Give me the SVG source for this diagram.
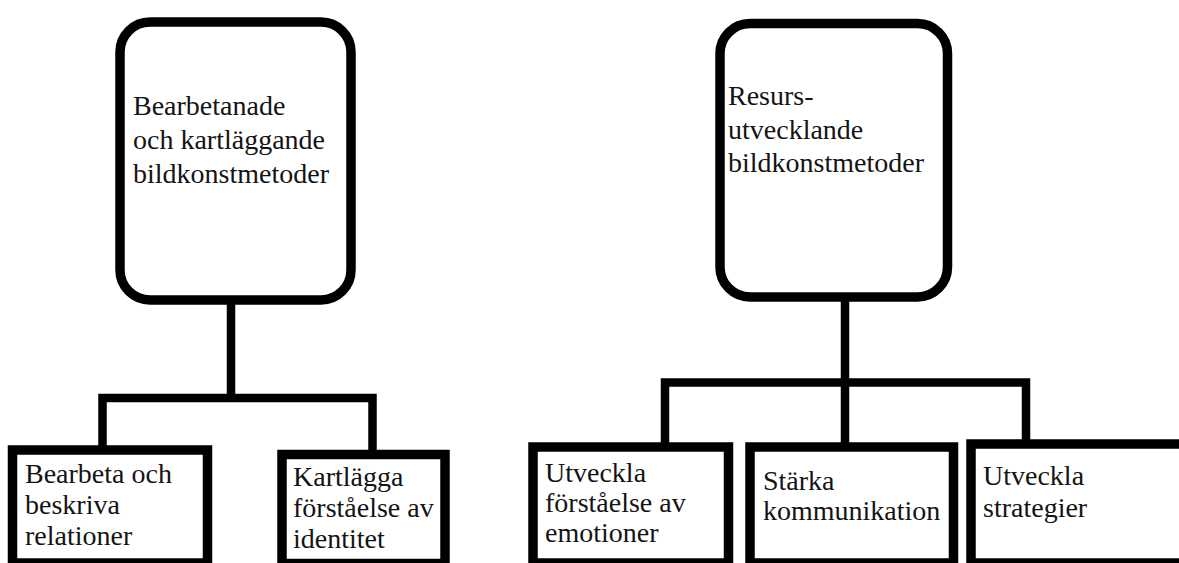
<svg xmlns="http://www.w3.org/2000/svg" width="1179" height="563" viewBox="0 0 1179 563">
  <style>
    .box { fill: #ffffff; stroke: #000000; stroke-width: 9.5; }
    .leaf { fill: #ffffff; stroke: #000000; stroke-width: 9.5; }
    .conn { fill: none; stroke: #000000; stroke-width: 8.5; stroke-linejoin: miter; stroke-linecap: butt; }
    .t { font-family: "Liberation Serif", "Times New Roman", serif; font-size: 28px; fill: #141414; }
  </style>
  <rect x="0" y="0" width="1179" height="563" fill="#ffffff"/>
  <g id="connectors">
    <path class="conn" d="M231 300 V398"/>
    <path class="conn" d="M102.5 450 V398 H372.5 V455"/>
    <path class="conn" d="M845 297 V447"/>
    <path class="conn" d="M665 447 V382.5 H1026 V444"/>
  </g>
  <g id="node-bearbetande">
    <rect class="box" x="120" y="22" width="231" height="278" rx="30" ry="30"/>
    <text class="t" x="133" y="115">Bearbetanade</text>
    <text class="t" x="133" y="149">och kartläggande</text>
    <text class="t" x="133" y="183">bildkonstmetoder</text>
  </g>
  <g id="node-resurs">
    <rect class="box" x="720" y="23.5" width="227.5" height="273.5" rx="30" ry="30"/>
    <text class="t" x="728" y="105">Resurs-</text>
    <text class="t" x="728" y="138.5">utvecklande</text>
    <text class="t" x="728" y="172">bildkonstmetoder</text>
  </g>
  <g id="node-relationer">
    <rect class="leaf" x="12.5" y="450" width="195" height="113"/>
    <text class="t" x="25" y="483">Bearbeta och</text>
    <text class="t" x="25" y="514">beskriva</text>
    <text class="t" x="25" y="545">relationer</text>
  </g>
  <g id="node-identitet">
    <rect class="leaf" x="282" y="454.5" width="163" height="109"/>
    <text class="t" x="293" y="486">Kartlägga</text>
    <text class="t" x="293" y="517">förståelse av</text>
    <text class="t" x="293" y="548">identitet</text>
  </g>
  <g id="node-emotioner">
    <rect class="leaf" x="533" y="447" width="195.5" height="116"/>
    <text class="t" x="545" y="482">Utveckla</text>
    <text class="t" x="545" y="512">förståelse av</text>
    <text class="t" x="545" y="542">emotioner</text>
  </g>
  <g id="node-kommunikation">
    <rect class="leaf" x="750" y="447" width="203.5" height="116"/>
    <text class="t" x="763" y="490">Stärka</text>
    <text class="t" x="763" y="520">kommunikation</text>
  </g>
  <g id="node-strategier">
    <rect class="leaf" x="971" y="444" width="220" height="119"/>
    <text class="t" x="983" y="485">Utveckla</text>
    <text class="t" x="983" y="517">strategier</text>
  </g>
</svg>
